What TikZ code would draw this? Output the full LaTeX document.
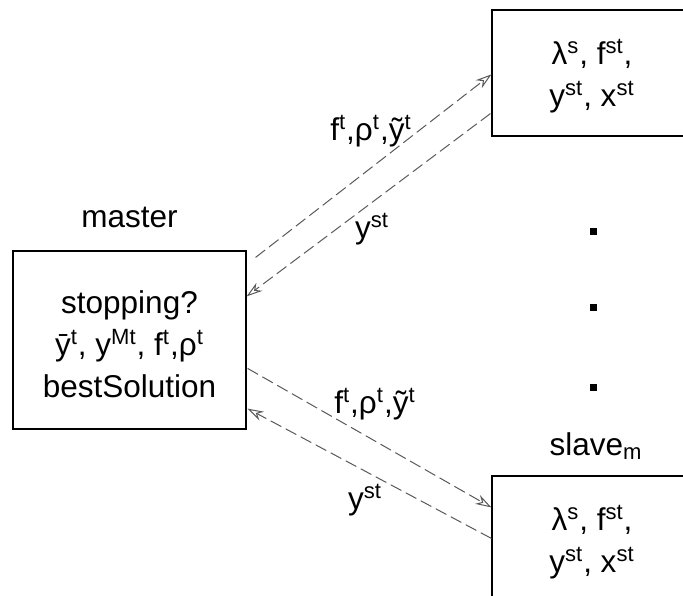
\documentclass[tikz,border=0pt]{standalone}
\usepackage{fontspec}
\setmainfont{Liberation Sans}
\usetikzlibrary{arrows.meta,calc}
\newcommand{\sps}[1]{\textsuperscript{#1}}
\begin{document}
\begin{tikzpicture}[x=0.5pt,y=-0.5pt,
  every node/.style={font=\fontsize{15.75}{21}\selectfont},
  procbox/.style={draw=black,line width=0.6pt,rectangle,inner sep=0pt},
  boxtext/.style={align=center,inner sep=0pt},
  msg/.style={draw=black!65,line width=0.5pt,dash pattern=on 6pt off 2.5pt,
    -{Stealth[open,length=8pt,width=5pt]}},
  lbl/.style={anchor=base,inner sep=0pt},
  dotmark/.style={fill=black,draw=none,minimum size=3.5pt,inner sep=0pt}]
  \useasboundingbox (0,0) rectangle (683,595);
  % processes
  \node[procbox,minimum width=116.5pt,minimum height=89pt] (master) at (129.5,340) {};
  \node[procbox,minimum width=100pt,minimum height=63pt] (slaveA) at (592,73) {};
  \node[procbox,minimum width=100pt,minimum height=63pt] (slaveB) at (592,539) {};
  \node[boxtext] (mastertxt) at (129.5,344)
    {stopping?\\ \={y}\sps{t}, y\sps{Mt}, f\sps{t},ρ\sps{t}\\ bestSolution};
  \node[boxtext] (slaveAtxt) at (592,76) {λ\sps{s}, f\sps{st},\\ y\sps{st}, x\sps{st}};
  \node[boxtext] (slaveBtxt) at (592,542) {λ\sps{s}, f\sps{st},\\ y\sps{st}, x\sps{st}};
  % titles
  \node[lbl] (mastertitle) at (129.5,227) {master};
  \node[lbl] (slavetitle) at (596,455) {slave\textsubscript{m}};
  % ellipsis between the slaves
  \node[dotmark] (d1) at (593,231) {};
  \node[dotmark] (d2) at (593,307) {};
  \node[dotmark] (d3) at (593,387) {};
  % connection points
  \coordinate (mA) at ($(master.north east)+(9,7)$);
  \coordinate (mB) at ($(master.north east)+(0,46)$);
  \coordinate (mC) at ($(master.north east)+(1,118)$);
  \coordinate (mD) at ($(master.south east)+(1,-21)$);
  \coordinate (sA) at ($(slaveA.north west)+(0,65)$);
  \coordinate (sB) at ($(slaveA.south west)+(-1,-23)$);
  \coordinate (sC) at ($(slaveB.north west)+(0,32)$);
  \coordinate (sD) at ($(slaveB.north west)+(0,63)$);
  % messages
  \draw[msg] (mA) -- (sA);
  \draw[msg] (sB) -- (mB);
  \draw[msg] (mC) -- (sC);
  \draw[msg] (sD) -- (mD);
  % message labels
  \node[lbl] (lA) at (371,140) {f\sps{t},ρ\sps{t},\~{y}\sps{t}};
  \node[lbl] (lB) at (372,238) {y\sps{st}};
  \node[lbl] (lC) at (375,413) {f\sps{t},ρ\sps{t},\~{y}\sps{t}};
  \node[lbl] (lD) at (365,509) {y\sps{st}};
\end{tikzpicture}
\end{document}
